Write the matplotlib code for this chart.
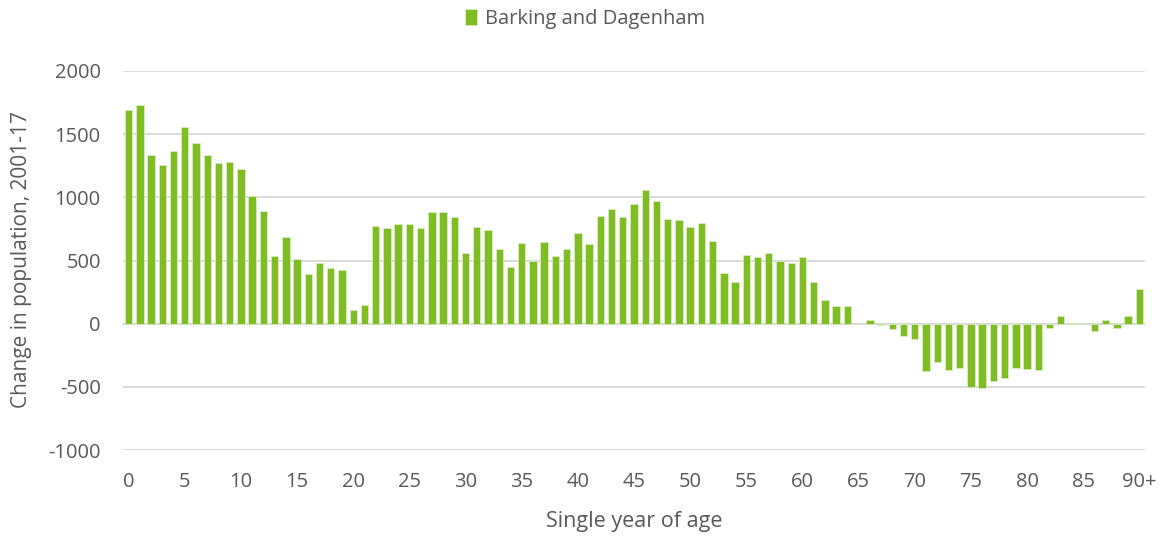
import matplotlib
matplotlib.use("Agg")
import matplotlib.pyplot as plt
import numpy as np

ages = list(range(91))
change = [1691, 1728, 1339, 1257, 1368, 1557, 1434, 1336, 1271, 1281,
          1228, 1007, 894, 539, 686, 515, 391, 481, 444, 423,
          105, 145, 775, 758, 789, 792, 758, 882, 884, 847,
          558, 763, 742, 592, 447, 639, 495, 647, 537, 592,
          716, 632, 855, 908, 847, 947, 1061, 968, 832, 821,
          763, 800, 658, 405, 326, 547, 526, 563, 495, 484,
          524, 326, 187, 137, 140, 0, 26, -8, -42, -100,
          -124, -373, -307, -368, -352, -500, -511, -452, -429, -347,
          -362, -368, -37, 61, 4, 0, -56, 26, -34, 63,
          278]
tick_pos = list(range(0, 91, 5))
tick_labels = [str(a) for a in range(0, 90, 5)] + ["90+"]
y_ticks = [-1000, -500, 0, 500, 1000, 1500, 2000]
series_name = "Barking and Dagenham"

plt.rcParams['font.family'] = ['Open Sans', 'DejaVu Sans']
txt = "#595959"
green = "#80BC24"

W, H = 1162, 536
fig = plt.figure(figsize=(W / 100, H / 100), dpi=100)
ax = fig.add_axes([123 / W, 1 - 450 / H, 1022 / W, 379 / H])

ax.bar(ages, change, width=0.66, color=green, edgecolor="#D9EDBF",
       linewidth=0.6, label=series_name, zorder=3)

ax.set_xlim(-0.5, 90.5)
ax.set_ylim(-1000, 2000)
ax.set_yticks(y_ticks)
ax.set_yticklabels([str(v) for v in y_ticks])
ax.set_xticks(tick_pos)
ax.set_xticklabels(tick_labels)
ax.grid(axis='y', color="#D9D9D9", linewidth=1.3, zorder=0)
ax.axhline(0, color="#D9D9D9", linewidth=1.5, zorder=2)
for s in ax.spines.values():
    s.set_visible(False)
ax.tick_params(axis='both', length=0, labelsize=14.5, colors=txt)
ax.tick_params(axis='x', pad=16)
ax.tick_params(axis='y', pad=16)

fig.text(634 / W, 1 - 521 / H, "Single year of age", fontsize=15.5, color=txt,
         ha='center', va='center')
fig.text(22 / W, 1 - 260 / H, "Change in population, 2001-17", fontsize=15,
         color=txt, ha='center', va='center', rotation=90)

fig.legend(loc='center', bbox_to_anchor=(585 / W, 1 - 19 / H), frameon=False,
           fontsize=14.5, handlelength=0.6, handleheight=0.85,
           handletextpad=0.35, labelcolor=txt)

fig.savefig("out.png", dpi=100)
